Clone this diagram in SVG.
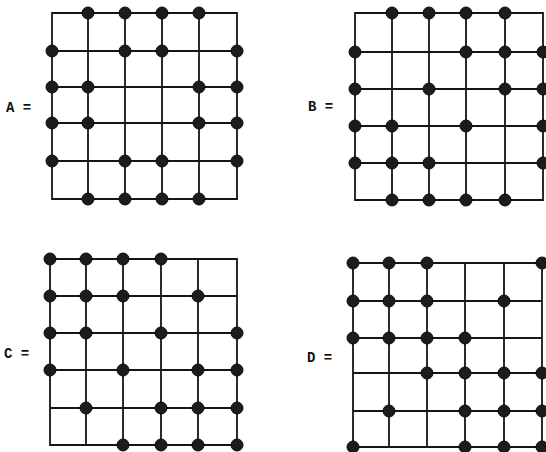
<svg xmlns="http://www.w3.org/2000/svg" width="546" height="452" viewBox="0 0 546 452">
<style>
.grid{fill:none;stroke:#151515;stroke-width:1.8;stroke-linecap:square}
.dot{fill:#1c1c1c;stroke:#0a0a0a;stroke-width:1}
.lbl{font-family:"Liberation Mono","DejaVu Sans Mono",monospace;font-size:14px;font-weight:bold;fill:#111}
</style>
<defs>
<circle id="d" r="6" class="dot"/>
</defs>
<rect width="546" height="452" fill="#fff"/>
<g id="connectors">
<path class="grid" d="M52 13H237V199H52Z M52 51H237 M52 87H237 M52 123H237 M52 161H237 M88 13V199 M125 13V199 M162 13V199 M199 13V199"/>
<path class="grid" d="M355 13H543V200H355Z M355 52H543 M355 89H543 M355 126H543 M355 163H543 M392 13V200 M429 13V200 M466 13V200 M505 13V200"/>
<path class="grid" d="M50 259H237V445H50Z M50 296H237 M50 333H237 M50 370H237 M50 408H237 M86 259V445 M123 259V445 M161 259V445 M198 259V445"/>
<path class="grid" d="M353 263H542V447H353Z M353 301H542 M353 338H542 M353 373H542 M353 411H542 M389 263V447 M427 263V447 M465 263V447 M504 263V447"/>
</g>
<g id="gridA">
<text class="lbl" x="6" y="112">A =</text>
<use href="#d" x="88" y="13"/><use href="#d" x="125" y="13"/><use href="#d" x="162" y="13"/><use href="#d" x="199" y="13"/>
<use href="#d" x="52" y="51"/><use href="#d" x="125" y="51"/><use href="#d" x="162" y="51"/><use href="#d" x="237" y="51"/>
<use href="#d" x="52" y="87"/><use href="#d" x="88" y="87"/><use href="#d" x="199" y="87"/><use href="#d" x="237" y="87"/>
<use href="#d" x="52" y="123"/><use href="#d" x="88" y="123"/><use href="#d" x="199" y="123"/><use href="#d" x="237" y="123"/>
<use href="#d" x="52" y="161"/><use href="#d" x="125" y="161"/><use href="#d" x="162" y="161"/><use href="#d" x="237" y="161"/>
<use href="#d" x="88" y="199"/><use href="#d" x="125" y="199"/><use href="#d" x="162" y="199"/><use href="#d" x="199" y="199"/>
</g>
<g id="gridB">
<text class="lbl" x="308" y="111">B =</text>
<use href="#d" x="392" y="13"/><use href="#d" x="429" y="13"/><use href="#d" x="466" y="13"/><use href="#d" x="505" y="13"/>
<use href="#d" x="355" y="52"/><use href="#d" x="466" y="52"/><use href="#d" x="505" y="52"/><use href="#d" x="543" y="52"/>
<use href="#d" x="355" y="89"/><use href="#d" x="429" y="89"/><use href="#d" x="505" y="89"/><use href="#d" x="543" y="89"/>
<use href="#d" x="355" y="126"/><use href="#d" x="392" y="126"/><use href="#d" x="466" y="126"/><use href="#d" x="543" y="126"/>
<use href="#d" x="355" y="163"/><use href="#d" x="392" y="163"/><use href="#d" x="429" y="163"/><use href="#d" x="543" y="163"/>
<use href="#d" x="392" y="200"/><use href="#d" x="429" y="200"/><use href="#d" x="466" y="200"/><use href="#d" x="505" y="200"/>
</g>
<g id="gridC">
<text class="lbl" x="4" y="358">C =</text>
<use href="#d" x="50" y="259"/><use href="#d" x="86" y="259"/><use href="#d" x="123" y="259"/><use href="#d" x="161" y="259"/>
<use href="#d" x="50" y="296"/><use href="#d" x="86" y="296"/><use href="#d" x="123" y="296"/><use href="#d" x="198" y="296"/>
<use href="#d" x="50" y="333"/><use href="#d" x="86" y="333"/><use href="#d" x="161" y="333"/><use href="#d" x="237" y="333"/>
<use href="#d" x="50" y="370"/><use href="#d" x="123" y="370"/><use href="#d" x="198" y="370"/><use href="#d" x="237" y="370"/>
<use href="#d" x="86" y="408"/><use href="#d" x="161" y="408"/><use href="#d" x="198" y="408"/><use href="#d" x="237" y="408"/>
<use href="#d" x="123" y="445"/><use href="#d" x="161" y="445"/><use href="#d" x="198" y="445"/><use href="#d" x="237" y="445"/>
</g>
<g id="gridD">
<text class="lbl" x="307" y="362">D =</text>
<use href="#d" x="353" y="263"/><use href="#d" x="389" y="263"/><use href="#d" x="427" y="263"/><use href="#d" x="542" y="263"/>
<use href="#d" x="353" y="301"/><use href="#d" x="389" y="301"/><use href="#d" x="427" y="301"/><use href="#d" x="504" y="301"/>
<use href="#d" x="353" y="338"/><use href="#d" x="389" y="338"/><use href="#d" x="427" y="338"/><use href="#d" x="465" y="338"/>
<use href="#d" x="427" y="373"/><use href="#d" x="465" y="373"/><use href="#d" x="504" y="373"/><use href="#d" x="542" y="373"/>
<use href="#d" x="389" y="411"/><use href="#d" x="465" y="411"/><use href="#d" x="504" y="411"/><use href="#d" x="542" y="411"/>
<use href="#d" x="353" y="447"/><use href="#d" x="465" y="447"/><use href="#d" x="504" y="447"/><use href="#d" x="542" y="447"/>
</g>
</svg>
